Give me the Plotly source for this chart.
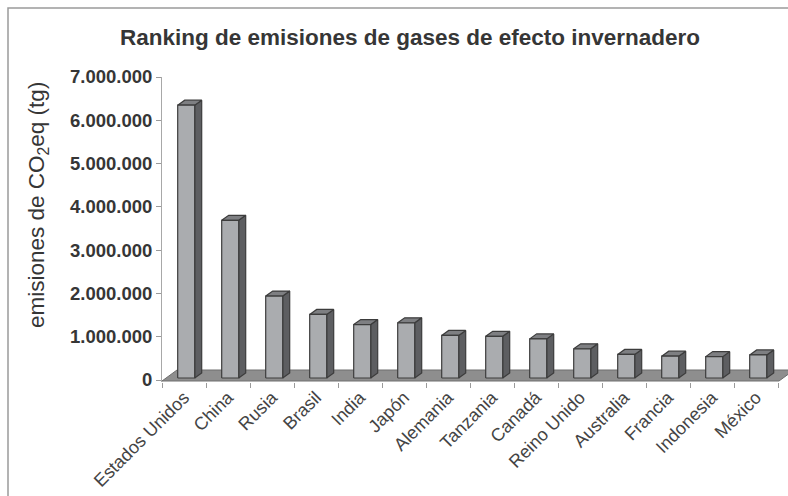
import plotly.graph_objects as go

# Ranking data (emissions in tg of CO2-equivalent)
countries = ["Estados Unidos", "China", "Rusia", "Brasil", "India", "Japón",
             "Alemania", "Tanzania", "Canadá", "Reino Unido", "Australia",
             "Francia", "Indonesia", "México"]
emissions = [6350000, 3690000, 1940000, 1515000, 1280000, 1320000,
             1030000, 1010000, 950000, 720000, 590000,
             550000, 540000, 580000]

y_tick_values = [0, 1000000, 2000000, 3000000, 4000000, 5000000, 6000000, 7000000]
y_tick_labels = ["0", "1.000.000", "2.000.000", "3.000.000", "4.000.000",
                 "5.000.000", "6.000.000", "7.000.000"]

# Figure geometry
W, H = 788, 496
M_L, M_R, M_T, M_B = 162, 0, 77, 114
plot_w = W - M_L - M_R
plot_h = H - M_T - M_B
px_per_cat = 44.0
x_min = -0.5
x_max = x_min + plot_w / px_per_cat
y_max = 7000000
y_min = -y_max * 2 / (plot_h - 2)
px_per_unit = plot_h / (y_max - y_min)

def dx(px):
    return px / px_per_cat

def dy(px):
    return px / px_per_unit

# pseudo-3D column shape
bar_left = dx(-6.3)
bar_right = dx(10.7)
depth_x = dx(7)
depth_y = dy(5)
bar_base = dy(2)

front_x, front_y = [], []
side_x, side_y = [], []
top_x, top_y = [], []
for i, v in enumerate(emissions):
    x0, x1 = i + bar_left, i + bar_right
    front_x += [x0, x1, x1, x0, x0, None]
    front_y += [bar_base, bar_base, v, v, bar_base, None]
    side_x += [x1, x1 + depth_x, x1 + depth_x, x1, x1, None]
    side_y += [bar_base, bar_base + depth_y, v + depth_y, v, bar_base, None]
    top_x += [x0, x1, x1 + depth_x, x0 + depth_x, x0, None]
    top_y += [v, v, v + depth_y, v + depth_y, v, None]

# floor of the chart
floor_front = dy(-1)
floor_back = floor_front + dy(11)
floor_dx = dx(15)
floor_x0 = -0.5
floor_x1 = len(countries) - 0.5 + dx(1)
floor_xs = [floor_x0, floor_x1, floor_x1 + floor_dx, floor_x0 + floor_dx, floor_x0]
floor_ys = [floor_front, floor_front, floor_back, floor_back, floor_front]

edge = "#3c3c3c"
fig = go.Figure()
fig.add_trace(go.Scatter(x=floor_xs, y=floor_ys, mode="lines", fill="toself",
                         fillcolor="#8e8e8e", line=dict(color="#6e6e6e", width=1),
                         hoverinfo="skip", showlegend=False))
fig.add_trace(go.Scatter(x=side_x, y=side_y, mode="lines", fill="toself",
                         fillcolor="#5d5e61", line=dict(color=edge, width=1.2),
                         hoverinfo="skip", showlegend=False))
fig.add_trace(go.Scatter(x=top_x, y=top_y, mode="lines", fill="toself",
                         fillcolor="#7e7f82", line=dict(color=edge, width=1.2),
                         hoverinfo="skip", showlegend=False))
fig.add_trace(go.Scatter(x=front_x, y=front_y, mode="lines", fill="toself",
                         fillcolor="#aaacaf", line=dict(color=edge, width=1.2),
                         hoverinfo="skip", showlegend=False))

font_family = "Liberation Sans, Arial, sans-serif"
text_color = "#363636"

fig.update_layout(
    width=W, height=H, autosize=False,
    margin=dict(l=M_L, r=M_R, t=M_T, b=M_B, pad=0, autoexpand=False),
    paper_bgcolor="white", plot_bgcolor="white",
    font=dict(family=font_family, color=text_color),
    title=dict(text="Ranking de emisiones de gases de efecto invernadero",
               x=410 / W, xref="container", xanchor="center",
               y=1 - 37 / H, yref="container", yanchor="middle",
               font=dict(size=22.5, weight="bold", color=text_color, family=font_family)),
    xaxis=dict(range=[x_min, x_max], showgrid=False, zeroline=False, showline=False,
               tickmode="array", tickvals=list(range(len(countries))), ticktext=countries,
               tickangle=-45, ticks="outside", ticklen=3, tickcolor="rgba(0,0,0,0)",
               ticklabelstandoff=-6,
               tickfont=dict(size=18, color="#444444", family=font_family),
               minor=dict(tickmode="array",
                          tickvals=[i - 0.5 for i in range(len(countries) + 1)],
                          ticks="outside", ticklen=5, tickcolor="#9a9a9a", tickwidth=1,
                          showgrid=False),
               fixedrange=True),
    yaxis=dict(range=[y_min, y_max], showgrid=False, zeroline=False,
               showline=True, linecolor="#a8a8a8", linewidth=1,
               tickmode="array", tickvals=y_tick_values, ticktext=y_tick_labels,
               ticks="outside", ticklen=5, tickcolor="#9a9a9a", tickwidth=1,
               tickfont=dict(size=18.5, weight="bold", color=text_color, family=font_family),
               fixedrange=True),
    annotations=[dict(text="emisiones de CO<sub>2</sub>eq (tg)",
                      xref="paper", yref="paper",
                      x=(38 - M_L) / plot_w, y=(H - M_B - 205) / plot_h,
                      xanchor="center", yanchor="middle", textangle=-90,
                      showarrow=False,
                      font=dict(size=22.5, color=text_color, family=font_family))],
    shapes=[dict(type="rect", xref="paper", yref="paper",
                 x0=(8 - M_L) / plot_w, x1=1.05,
                 y0=-0.5, y1=(H - M_B - 8) / plot_h,
                 line=dict(color="#9a9a9a", width=1.5), layer="below")],
)

fig.write_html("out.html")
